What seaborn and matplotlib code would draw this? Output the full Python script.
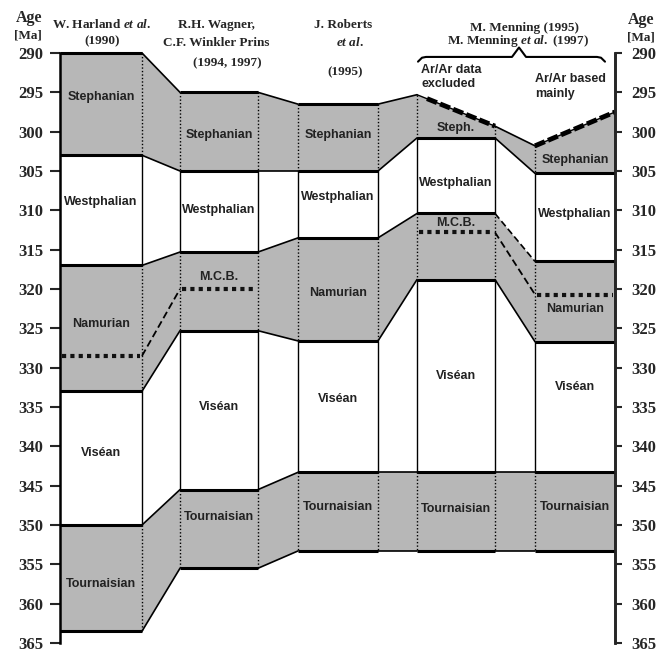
import matplotlib
matplotlib.use('Agg')
import matplotlib.pyplot as plt
import seaborn as sns

# Stufen (oben -> unten), grau = Stephanian, Namurian, Tournaisian
stages = ['Stephanian', 'Westphalian', 'Namurian', 'Viséan', 'Tournaisian']
grey_stage = [True, False, True, False, True]

# Grenzen [Ma]: Oberkante Stephanian, dann Basis jeder Stufe
harland = [290.0, 303.0, 317.0, 333.0, 350.0, 363.5]
wagner = [295.0, 305.0, 315.3, 325.3, 345.5, 355.5]
roberts = [296.5, 305.0, 313.5, 326.6, 343.3, 353.3]
menning_excl = [295.3, 300.8, 310.4, 318.8, 343.3, 353.3]
menning_arar = [301.8, 305.3, 316.5, 326.7, 343.3, 353.3]
# Oberkante Stephanian am rechten Spaltenrand (schraege Oberkanten)
top_right = [290.0, 295.0, 296.5, 299.3, 297.5]
# Mid-Carboniferous Boundary
mcb = [328.5, 320.0, None, 312.8, 320.7]

col_labels = [
    ['Stephanian', 'Westphalian', 'Namurian', 'Viséan', 'Tournaisian'],
    ['Stephanian', 'Westphalian', 'M.C.B.', 'Viséan', 'Tournaisian'],
    ['Stephanian', 'Westphalian', 'Namurian', 'Viséan', 'Tournaisian'],
    ['Steph.', 'Westphalian', 'M.C.B.', 'Viséan', 'Tournaisian'],
    ['Stephanian', 'Westphalian', 'Namurian', 'Viséan', 'Tournaisian'],
]
age_ticks = list(range(290, 366, 5))

columns = [harland, wagner, roberts, menning_excl, menning_arar]

# Layout (Pixel-artige x-Koordinaten)
col_x = [(60, 142), (180, 258), (298, 378), (417, 495), (535, 615)]
label_dy = [
    [-0.9, -1.0, -0.5, -0.7, 0.75],
    [0.4, -0.15, -1.8, -0.4, -1.5],
    [-0.35, -0.95, 0.45, -0.95, -0.6],
    [0.45, 0.9, -3.0, 0.0, -0.3],
    [1.1, -0.4, 1.0, -2.5, -0.6],
]
GREY = '#b7b7b7'
W, H = 667, 653

sns.set_style('white')
plt.rcParams['font.family'] = ['Liberation Sans', 'DejaVu Sans']
plt.rcParams['mathtext.fontset'] = 'custom'
plt.rcParams['mathtext.it'] = 'Liberation Serif:italic:bold'
plt.rcParams['mathtext.rm'] = 'Liberation Serif:bold'

fig = plt.figure(figsize=(W / 100, H / 100), dpi=100)
ax = fig.add_axes([60 / W, 1 - 643 / H, (615 - 60) / W, (643 - 53) / H])
ax.set_xlim(60, 615)
ax.set_ylim(365, 290)

# Spalten
for i, b in enumerate(columns):
    x0, x1 = col_x[i]
    for s in range(len(stages)):
        tl = b[s]
        tr = top_right[i] if s == 0 else b[s]
        bot = b[s + 1]
        if grey_stage[s]:
            ax.fill([x0, x1, x1, x0], [tl, tr, bot, bot], color=GREY, lw=0)
        ls = (0, (1, 1.5)) if grey_stage[s] else '-'
        if i > 0:
            ax.plot([x0, x0], [tl, bot], color='k', lw=1.0, ls=ls)
        if i < 4:
            ax.plot([x1, x1], [tr, bot], color='k', lw=1.0, ls=ls)
        # Beschriftung
        ymid = ((tl + tr) / 2 + bot) / 2 + label_dy[i][s]
        ax.text((x0 + x1) / 2, ymid, col_labels[i][s], ha='center', va='center',
                fontsize=9, fontweight='bold', color='#222222')
    # Grenzlinien
    for k in range(1, len(b)):
        ax.plot([x0, x1], [b[k], b[k]], color='k', lw=2.2, solid_capstyle='butt')
    if i < 3:
        ax.plot([x0, x1], [b[0], top_right[i]], color='k', lw=2.2, solid_capstyle='butt',
                clip_on=False)
    else:
        ax.plot([x0, x1], [b[0], top_right[i]], color='k', lw=1.0)
        ax.plot([x0 + 10 if i == 3 else x0, x1], [b[0] + (0.5 if i == 3 else 0), top_right[i]],
                color='k', lw=3.5, ls=(0, (2.2, 0.7)), solid_capstyle='butt')
    # M.C.B.
    if mcb[i] is not None:
        ax.plot([x0 + 2, x1 - 2], [mcb[i], mcb[i]], color='#111111', lw=3,
                ls=(0, (1, 1)), dash_capstyle='butt')

# Verbindungen zwischen den Spalten
for i in range(4):
    a, c = columns[i], columns[i + 1]
    xa, xc = col_x[i][1], col_x[i + 1][0]
    for s in range(len(stages)):
        if not grey_stage[s]:
            continue
        ta = top_right[i] if s == 0 else a[s]
        tc = c[s]
        ax.fill([xa, xc, xc, xa], [ta, tc, c[s + 1], a[s + 1]], color=GREY, lw=0)
    for k in range(len(a)):
        ya = top_right[i] if k == 0 else a[k]
        ls = (0, (4, 2)) if (i == 3 and k == 2) else '-'
        ax.plot([xa, xc], [ya, c[k]], color='k', lw=1.2, ls=ls, clip_on=False)
    if mcb[i] is not None and mcb[i + 1] is not None:
        ax.plot([xa, xc], [mcb[i], mcb[i + 1]], color='k', lw=1.3, ls=(0, (4, 2)))

# Achsen
sns.despine(ax=ax, top=True, bottom=True, left=False, right=False)
for side in ['left', 'right']:
    ax.spines[side].set_linewidth(1.8)
    ax.spines[side].set_color('k')
ax.set_xticks([])
ax.set_yticks(age_ticks)
ax.tick_params(axis='y', left=True, right=False, direction='out', length=7,
               width=1.5, pad=5, labelsize=12)
for t in ax.get_yticklabels():
    t.set_fontfamily('Liberation Serif')
    t.set_fontweight('bold')

ax2 = ax.twinx()
ax2.set_ylim(365, 290)
ax2.set_yticks(age_ticks)
sns.despine(ax=ax2, top=True, bottom=True, left=True, right=False)
ax2.spines['right'].set_linewidth(1.8)
ax2.tick_params(axis='y', right=True, direction='out', length=5, width=1.5,
                pad=7, labelsize=12)
for t in ax2.get_yticklabels():
    t.set_fontfamily('Liberation Serif')
    t.set_fontweight('bold')

# Geschweifte Klammer ueber Menning
bx = [418, 422, 426, 512, 519, 526, 597, 601, 605]
by = [291.1, 290.6, 290.5, 290.5, 289.3, 290.5, 290.5, 290.6, 291.1]
ax.plot(bx, by, color='k', lw=1.5, clip_on=False)


def ftext(x, y, s, **kw):
    fig.text(x / W, 1 - y / H, s, **kw)


serif = dict(fontfamily='Liberation Serif', fontweight='bold', fontsize=9.5,
             ha='center', va='center')
ftext(29, 18, 'Age', **{**serif, 'fontsize': 11.5})
ftext(28, 35, '[Ma]', **serif)
ftext(641, 20, 'Age', **{**serif, 'fontsize': 11.5})
ftext(641, 38, '[Ma]', **serif)
ftext(102, 25, r'W. Harland $\mathit{et\ al.}$', **serif)
ftext(102, 41, '(1990)', **serif)
ftext(216, 25, 'R.H. Wagner,', **serif)
ftext(216, 43, 'C.F. Winkler Prins', **serif)
ftext(227, 63, '(1994, 1997)', **serif)
ftext(343, 25, 'J. Roberts', **serif)
ftext(350, 43, r'$\mathit{et\ al.}$', **serif)
ftext(345, 72, '(1995)', **serif)
ftext(525, 28, 'M. Menning (1995)', **serif)
ftext(518, 41, r'M. Menning $\mathit{et\ al.}$ (1997)', **serif)

sans = dict(fontsize=9, fontweight='bold', ha='left', va='center', color='#222222')
ftext(421, 70, 'Ar/Ar data', **sans)
ftext(421, 84, 'excluded', **sans)
ftext(535, 79, 'Ar/Ar based', **sans)
ftext(535, 94, 'mainly', **sans)

fig.savefig('out.png', dpi=100)
